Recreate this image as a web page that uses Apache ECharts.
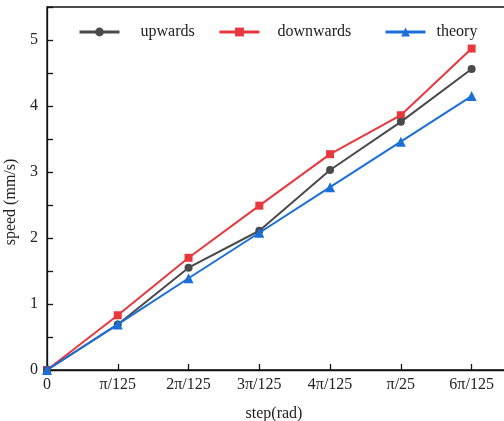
<!DOCTYPE html>
<html>
<head>
<meta charset="utf-8">
<script src="https://cdn.jsdelivr.net/npm/echarts@6/dist/echarts.min.js"></script>
<style>
  html, body { margin: 0; padding: 0; background: #fff; }
  #chart { width: 504px; height: 421px; }
</style>
</head>
<body>
<div id="chart"></div>
<script>
// Step angle labels along the x axis
var stepLabels = ['0', 'π/125', '2π/125', '3π/125', '4π/125', 'π/25', '6π/125'];
// Measured speed moving up, moving down, and the theoretical value (mm/s)
var upwards = [0, 0.69, 1.55, 2.11, 3.03, 3.76, 4.56];
var downwards = [0, 0.83, 1.70, 2.49, 3.27, 3.86, 4.87];
var theory = [0, 0.69, 1.39, 2.08, 2.77, 3.46, 4.15];

function pairs(vals) {
  return vals.map(function (v, i) { return [i, v]; });
}

var FONT = '"Liberation Serif", "Times New Roman", serif';
var chart = echarts.init(document.getElementById('chart'));

function legendAt(name, left, textGap) {
  return {
    data: [name],
    left: left,
    top: 24,
    padding: 0,
    itemWidth: 40,
    itemHeight: 11,
    lineStyle: { width: 3 },
    textStyle: { fontFamily: FONT, fontSize: 16, color: '#222', padding: [0, 0, 0, textGap] }
  };
}

chart.setOption({
  animation: false,
  backgroundColor: '#fff',
  legend: [legendAt('upwards', 78, 16), legendAt('downwards', 218, 13), legendAt('theory', 384, 6)],
  grid: {
    left: 47, top: 7, width: 460, height: 363,
    outerBoundsMode: 'none',
    containLabel: false,
    show: true, borderColor: '#111', borderWidth: 1.3, backgroundColor: 'transparent'
  },
  xAxis: {
    type: 'value',
    min: 0, max: 6.5, interval: 1,
    name: 'step(rad)',
    nameLocation: 'middle',
    nameGap: 36,
    nameTextStyle: { fontFamily: FONT, fontSize: 16, color: '#222', padding: [0, 6, 0, 0] },
    axisLine: { lineStyle: { color: '#111', width: 1.3 } },
    axisTick: { inside: true, length: 6, lineStyle: { color: '#111', width: 1.3 } },
    axisLabel: {
      fontFamily: FONT, fontSize: 16, color: '#222', margin: 7,
      formatter: function (v) { return Number.isInteger(v) && stepLabels[v] !== undefined ? stepLabels[v] : ''; }
    },
    splitLine: { show: false }
  },
  yAxis: {
    type: 'value',
    min: 0, max: 5.5, interval: 0.5,
    name: 'speed (mm/s)',
    nameLocation: 'middle',
    nameGap: 24,
    nameTextStyle: { fontFamily: FONT, fontSize: 16, color: '#222', padding: [0, 27, 0, 0] },
    axisLine: { show: true, lineStyle: { color: '#111', width: 1.3 } },
    axisTick: { inside: true, length: 6, lineStyle: { color: '#111', width: 1.3 } },
    axisLabel: {
      fontFamily: FONT, fontSize: 16, color: '#222', margin: 9,
      formatter: function (v) { return Number.isInteger(v) ? String(v) : ''; }
    },
    splitLine: { show: false }
  },
  series: [
    {
      name: 'upwards', type: 'line', data: pairs(upwards),
      symbol: 'circle', symbolSize: 8,
      lineStyle: { width: 2, color: '#4a4a4a' },
      itemStyle: { color: '#4a4a4a' }, z: 3
    },
    {
      name: 'downwards', type: 'line', data: pairs(downwards),
      symbol: 'rect', symbolSize: 8,
      lineStyle: { width: 2, color: '#e8383d' },
      itemStyle: { color: '#e8383d' }, z: 2
    },
    {
      name: 'theory', type: 'line', data: pairs(theory),
      symbol: 'triangle', symbolSize: 10,
      lineStyle: { width: 2, color: '#1a6fd8' },
      itemStyle: { color: '#1a6fd8' }, z: 4
    }
  ]
});
</script>
</body>
</html>
